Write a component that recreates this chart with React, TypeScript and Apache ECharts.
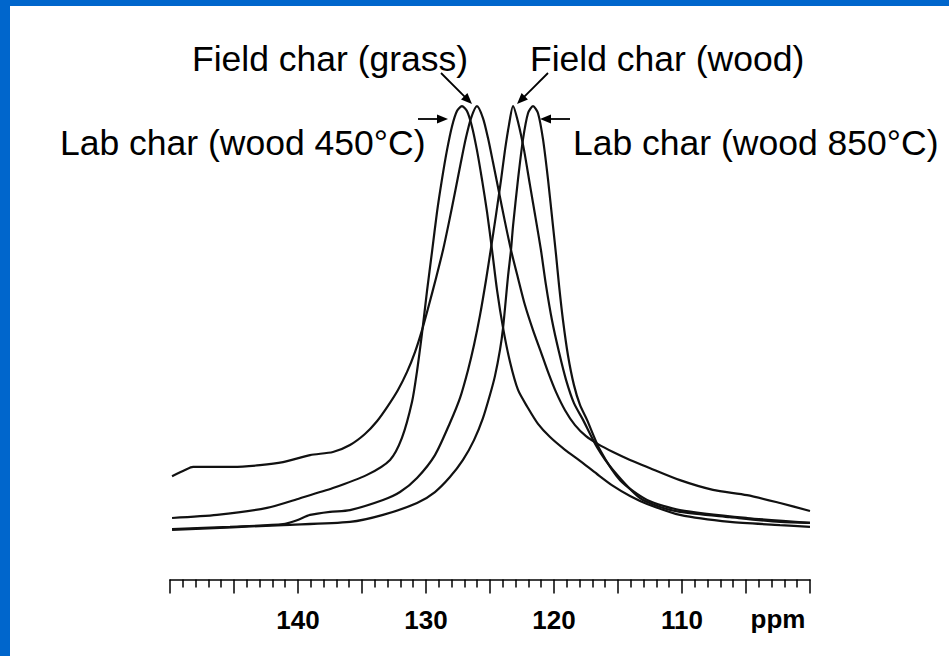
import React, { useEffect, useRef } from "react";
import * as echarts from "echarts";

// x axis: chemical shift (ppm), y: normalised intensity (a.u.)
const ppmLabelTicks = [140, 130, 120, 110];
const axisUnit = "ppm";

const seriesNames = [
  "Lab char (wood 450°C)",
  "Field char (grass)",
  "Field char (wood)",
  "Lab char (wood 850°C)",
];

// Lab char (wood 450°C) – peak ~127.2 ppm
const labChar450: [number, number][] = [
  [149.84, 5.0], [146.33, 5.7], [142.42, 7.3], [139.84, 9.5], [137.27, 11.8],
  [134.61, 14.8], [132.81, 18.2], [131.88, 23.2], [131.09, 31.4], [130.7, 38.4],
  [130.31, 47.0], [129.92, 56.6], [129.53, 65.5], [129.14, 74.5], [128.75, 82.0],
  [128.36, 88.6], [127.97, 94.0], [127.58, 97.5], [127.19, 98.6], [126.8, 97.5],
  [126.41, 94.0], [126.02, 88.6], [125.63, 82.0], [125.23, 74.5], [124.84, 65.9],
  [124.45, 56.8], [123.98, 48.2], [123.44, 40.5], [122.81, 34.1], [122.03, 30.0],
  [121.25, 26.4], [120.31, 23.4], [119.14, 20.5], [117.97, 18.0], [116.64, 15.0],
  [115.39, 12.3], [114.06, 10.0], [112.73, 8.2], [110.16, 5.7], [106.25, 4.1],
  [102.34, 3.4], [100.0, 3.0],
];

// Field char (grass) – peak ~126.0 ppm, broad wings
const fieldCharGrass: [number, number][] = [
  [149.84, 14.5], [148.83, 15.9], [148.2, 16.6], [146.88, 16.6], [145.08, 16.6],
  [142.97, 17.0], [141.17, 17.7], [139.06, 19.3], [137.27, 20.0], [135.94, 21.6],
  [134.77, 24.1], [133.83, 27.0], [132.97, 30.5], [132.19, 34.1], [131.48, 38.2],
  [130.86, 42.7], [130.31, 47.7], [129.77, 53.4], [129.22, 59.5], [128.67, 65.9],
  [128.2, 72.3], [127.73, 79.1], [127.27, 85.9], [126.88, 91.4], [126.48, 95.9],
  [126.02, 98.6], [125.55, 95.9], [125.16, 91.4], [124.77, 85.9], [124.3, 79.1],
  [123.83, 72.3], [123.36, 65.9], [122.81, 59.5], [122.27, 53.4], [121.64, 47.7],
  [121.02, 42.7], [120.47, 38.2], [119.84, 33.6], [119.14, 29.5], [118.36, 26.1],
  [117.5, 23.6], [116.56, 21.8], [115.39, 20.0], [114.06, 18.2], [112.73, 16.6],
  [110.16, 13.6], [107.58, 11.4], [104.92, 10.2], [102.34, 8.4], [100.0, 6.6],
];

// Field char (wood) – peak ~123.2 ppm
const fieldCharWood: [number, number][] = [
  [149.84, 2.5], [145.31, 3.0], [141.17, 3.6], [140.08, 4.5], [139.06, 5.7],
  [137.5, 6.4], [135.94, 6.8], [133.36, 9.1], [132.03, 10.9], [130.7, 14.1],
  [129.3, 19.3], [128.13, 26.6], [127.34, 32.3], [126.72, 38.6], [126.25, 44.3],
  [125.78, 51.1], [125.31, 59.1], [124.92, 66.4], [124.53, 73.9], [124.14, 81.8],
  [123.83, 88.6], [123.52, 94.3], [123.2, 98.6], [122.81, 95.0], [122.34, 88.6],
  [121.88, 80.7], [121.41, 72.7], [121.02, 65.9], [120.63, 58.0], [120.16, 50.0],
  [119.61, 42.7], [119.06, 36.4], [118.44, 31.1], [117.73, 27.3], [116.64, 21.1],
  [115.39, 15.9], [113.28, 9.5], [111.72, 7.5], [110.16, 6.4], [106.25, 5.2],
  [102.34, 4.1], [100.0, 3.9],
];

// Lab char (wood 850°C) – peak ~121.6 ppm
const labChar850: [number, number][] = [
  [149.84, 2.3], [141.17, 3.4], [135.94, 4.1], [133.36, 5.7], [130.7, 8.4],
  [129.3, 10.9], [128.13, 14.3], [127.11, 18.2], [126.25, 22.7], [125.55, 27.7],
  [125.0, 33.0], [124.61, 37.3], [124.22, 43.2], [123.98, 48.2], [123.59, 60.0],
  [123.36, 65.9], [123.2, 71.4], [122.81, 82.0], [122.42, 91.1], [122.03, 97.0],
  [121.64, 98.6], [121.25, 97.0], [120.86, 91.1], [120.47, 82.0], [120.08, 71.4],
  [119.84, 64.8], [119.61, 58.0], [119.3, 50.0], [118.91, 42.0], [118.44, 35.2],
  [117.97, 30.7], [117.42, 27.3], [116.41, 20.5], [114.84, 13.6], [112.73, 9.1],
  [110.16, 6.8], [104.92, 5.0], [100.0, 3.9],
];

const seriesData = [labChar450, fieldCharGrass, fieldCharWood, labChar850];

const FONT = '"Liberation Sans", Arial, Helvetica, sans-serif';
const BLUE = "#0066CC";

function arrow(x1: number, y1: number, x2: number, y2: number) {
  const dx = x2 - x1;
  const dy = y2 - y1;
  const L = Math.hypot(dx, dy);
  const ux = dx / L;
  const uy = dy / L;
  const hl = 11;
  const hw = 4.5;
  const bx = x2 - ux * hl;
  const by = y2 - uy * hl;
  return [
    {
      type: "line",
      shape: { x1, y1, x2: bx + ux * 2, y2: by + uy * 2 },
      style: { stroke: "#000", lineWidth: 1.8 },
    },
    {
      type: "polygon",
      shape: {
        points: [
          [x2, y2],
          [bx - uy * hw, by + ux * hw],
          [bx + uy * hw, by - ux * hw],
        ],
      },
      style: { fill: "#000" },
    },
  ];
}

function label(text: string, x: number, y: number) {
  return {
    type: "text",
    style: {
      text,
      x,
      y,
      fill: "#000",
      fontSize: 35.5,
      fontFamily: FONT,
      textAlign: "left",
      verticalAlign: "middle",
    },
  };
}

export default function App() {
  const ref = useRef<HTMLDivElement>(null);

  useEffect(() => {
    document.body.style.margin = "0";
    if (!ref.current) return;
    const chart = echarts.init(ref.current, null, { renderer: "svg" });

    const option: any = {
      animation: false,
      backgroundColor: "#ffffff",
      grid: { left: 170, right: 139, top: 100, bottom: 76.4 },
      xAxis: {
        type: "value",
        min: 100,
        max: 150,
        interval: 5,
        inverse: true,
        axisLine: { show: true, onZero: false, lineStyle: { color: "#000", width: 1.5 } },
        axisTick: { show: true, length: 14, lineStyle: { color: "#000", width: 1.5 } },
        minorTick: { show: true, splitNumber: 5, length: 8, lineStyle: { color: "#000", width: 1.5 } },
        splitLine: { show: false },
        minorSplitLine: { show: false },
        axisLabel: {
          formatter: (v: number) => (ppmLabelTicks.includes(v) ? String(v) : ""),
          fontSize: 26,
          fontWeight: "bold",
          fontFamily: FONT,
          color: "#000",
          margin: 27,
        },
      },
      yAxis: { type: "value", min: -9, max: 100, show: false },
      series: seriesData.map((d, i) => ({
        name: seriesNames[i],
        type: "line",
        data: d,
        showSymbol: false,
        smooth: 0.25,
        lineStyle: { color: "#111", width: 2.2 },
      })),
      graphic: [
        { type: "rect", shape: { x: 0, y: 0, width: 949, height: 6 }, style: { fill: BLUE } },
        { type: "rect", shape: { x: 0, y: 0, width: 10, height: 656 }, style: { fill: BLUE } },
        label(seriesNames[1], 192, 59),
        label(seriesNames[2], 530, 59),
        label(seriesNames[0], 60, 143),
        label(seriesNames[3], 573, 143),
        ...arrow(441, 73, 472, 104),
        ...arrow(548, 73, 517, 104),
        ...arrow(418, 119, 448, 119),
        ...arrow(570, 119, 540, 119),
        {
          type: "text",
          style: {
            text: axisUnit,
            x: 778,
            y: 619,
            fill: "#000",
            fontSize: 26,
            fontWeight: "bold",
            fontFamily: FONT,
            textAlign: "center",
            verticalAlign: "middle",
          },
        },
      ],
    };

    chart.setOption(option);
    return () => chart.dispose();
  }, []);

  return <div ref={ref} style={{ width: "949px", height: "656px" }} />;
}
